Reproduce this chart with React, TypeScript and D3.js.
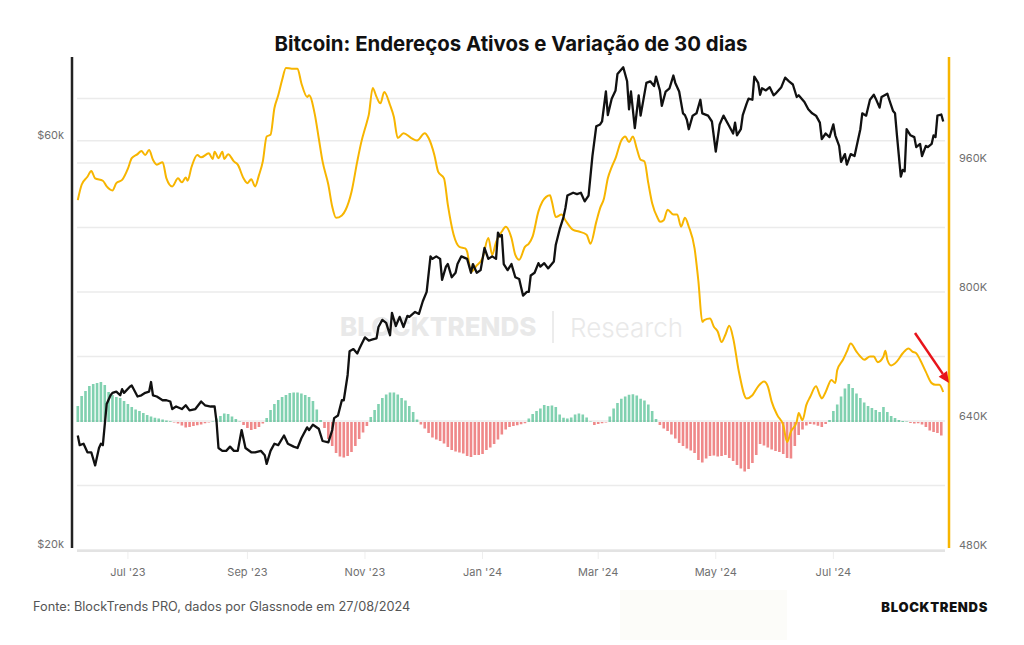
import * as d3 from "d3";

const W = 1024;
const H = 645;

// Active addresses (thousands), read at irregular dates
const activeAddresses: [string, number][] = [
  ["2023-06-05", 914], ["2023-06-07", 933], ["2023-06-10", 943], ["2023-06-12", 950], ["2023-06-14", 941],
  ["2023-06-18", 938], ["2023-06-20", 931], ["2023-06-23", 926], ["2023-06-25", 935], ["2023-06-28", 939],
  ["2023-07-01", 953], ["2023-07-03", 966], ["2023-07-06", 971], ["2023-07-08", 975], ["2023-07-10", 970],
  ["2023-07-12", 976], ["2023-07-14", 964], ["2023-07-16", 958], ["2023-07-19", 961], ["2023-07-21", 941],
  ["2023-07-24", 931], ["2023-07-27", 941], ["2023-07-29", 936], ["2023-07-31", 942], ["2023-08-01", 938],
  ["2023-08-03", 955], ["2023-08-06", 970], ["2023-08-08", 967], ["2023-08-12", 972], ["2023-08-14", 965],
  ["2023-08-15", 974], ["2023-08-17", 966], ["2023-08-19", 974], ["2023-08-20", 965], ["2023-08-22", 971],
  ["2023-08-25", 962], ["2023-08-27", 958], ["2023-08-30", 941], ["2023-09-01", 935], ["2023-09-03", 940],
  ["2023-09-05", 931], ["2023-09-07", 945], ["2023-09-09", 962], ["2023-09-11", 993], ["2023-09-13", 995],
  ["2023-09-15", 1028], ["2023-09-17", 1044], ["2023-09-19", 1063], ["2023-09-21", 1078], ["2023-09-24", 1077],
  ["2023-09-27", 1077], ["2023-09-29", 1059], ["2023-10-02", 1042], ["2023-10-03", 1044], ["2023-10-06", 1020],
  ["2023-10-08", 991], ["2023-10-10", 962], ["2023-10-13", 933], ["2023-10-15", 906], ["2023-10-17", 892],
  ["2023-10-20", 895], ["2023-10-22", 902], ["2023-10-25", 924], ["2023-10-28", 962], ["2023-10-30", 985],
  ["2023-11-02", 1011], ["2023-11-03", 1020], ["2023-11-05", 1053], ["2023-11-07", 1042], ["2023-11-09", 1034],
  ["2023-11-11", 1048], ["2023-11-14", 1032], ["2023-11-16", 1017], ["2023-11-18", 991], ["2023-11-21", 997],
  ["2023-11-25", 991], ["2023-11-28", 988], ["2023-12-02", 997], ["2023-12-04", 991], ["2023-12-07", 970],
  ["2023-12-09", 949], ["2023-12-12", 941], ["2023-12-14", 908], ["2023-12-17", 871], ["2023-12-20", 856],
  ["2023-12-23", 854], ["2023-12-24", 850], ["2023-12-26", 825], ["2023-12-29", 833], ["2024-01-01", 842],
  ["2024-01-04", 867], ["2024-01-06", 846], ["2024-01-08", 862], ["2024-01-11", 875], ["2024-01-13", 881],
  ["2024-01-16", 867], ["2024-01-18", 846], ["2024-01-20", 840], ["2024-01-23", 856], ["2024-01-25", 860],
  ["2024-01-27", 869], ["2024-01-30", 900], ["2024-02-01", 912], ["2024-02-03", 918], ["2024-02-05", 920],
  ["2024-02-06", 912], ["2024-02-08", 893], ["2024-02-11", 896], ["2024-02-13", 889], ["2024-02-17", 877],
  ["2024-02-20", 875], ["2024-02-24", 871], ["2024-02-26", 860], ["2024-02-29", 887], ["2024-03-02", 904],
  ["2024-03-04", 916], ["2024-03-06", 941], ["2024-03-08", 955], ["2024-03-10", 966], ["2024-03-13", 988],
  ["2024-03-15", 993], ["2024-03-17", 986], ["2024-03-19", 993], ["2024-03-21", 978], ["2024-03-23", 964],
  ["2024-03-25", 962], ["2024-03-27", 935], ["2024-03-29", 910], ["2024-04-01", 891], ["2024-04-02", 887],
  ["2024-04-04", 889], ["2024-04-06", 902], ["2024-04-09", 896], ["2024-04-11", 896], ["2024-04-13", 881],
  ["2024-04-15", 892], ["2024-04-17", 881], ["2024-04-20", 854], ["2024-04-22", 813], ["2024-04-24", 763],
  ["2024-04-25", 765], ["2024-04-28", 767], ["2024-04-30", 757], ["2024-05-02", 751], ["2024-05-04", 738],
  ["2024-05-06", 747], ["2024-05-08", 758], ["2024-05-10", 743], ["2024-05-13", 701], ["2024-05-17", 668],
  ["2024-05-20", 672], ["2024-05-23", 683], ["2024-05-26", 689], ["2024-05-28", 683], ["2024-05-30", 664],
  ["2024-06-02", 647], ["2024-06-05", 635], ["2024-06-07", 614], ["2024-06-09", 627], ["2024-06-12", 639],
  ["2024-06-13", 650], ["2024-06-15", 641], ["2024-06-17", 660], ["2024-06-19", 670], ["2024-06-22", 683],
  ["2024-06-24", 672], ["2024-06-25", 668], ["2024-06-27", 676], ["2024-06-30", 691], ["2024-07-02", 687],
  ["2024-07-03", 703], ["2024-07-06", 716], ["2024-07-08", 726], ["2024-07-10", 736], ["2024-07-13", 726],
  ["2024-07-15", 720], ["2024-07-17", 716], ["2024-07-20", 720], ["2024-07-22", 720], ["2024-07-24", 713],
  ["2024-07-27", 720], ["2024-07-28", 727], ["2024-07-29", 716], ["2024-07-31", 709], ["2024-08-03", 714],
  ["2024-08-06", 724], ["2024-08-09", 730], ["2024-08-11", 726], ["2024-08-13", 724], ["2024-08-15", 716],
  ["2024-08-18", 701], ["2024-08-21", 687], ["2024-08-23", 685], ["2024-08-25", 685], ["2024-08-27", 676],
];

// BTC price in USD
const btcPrice: [string, number][] = [
  ["2023-06-05", 27200], ["2023-06-06", 26500], ["2023-06-08", 26600], ["2023-06-10", 26000], ["2023-06-12", 26000],
  ["2023-06-14", 25100], ["2023-06-16", 26300], ["2023-06-17", 26600], ["2023-06-18", 26500], ["2023-06-20", 29600],
  ["2023-06-22", 30300], ["2023-06-23", 30500], ["2023-06-25", 30600], ["2023-06-27", 30300], ["2023-06-28", 30800],
  ["2023-06-29", 30500], ["2023-07-02", 31000], ["2023-07-03", 31100], ["2023-07-06", 30200], ["2023-07-08", 30300],
  ["2023-07-10", 30500], ["2023-07-12", 30600], ["2023-07-13", 31400], ["2023-07-14", 30300], ["2023-07-16", 30200],
  ["2023-07-19", 29900], ["2023-07-21", 29900], ["2023-07-23", 29800], ["2023-07-24", 29200], ["2023-07-26", 29400],
  ["2023-07-29", 29200], ["2023-07-31", 29500], ["2023-08-02", 29100], ["2023-08-05", 29200], ["2023-08-08", 29800],
  ["2023-08-10", 29500], ["2023-08-13", 29400], ["2023-08-15", 29400], ["2023-08-16", 28200], ["2023-08-17", 26300],
  ["2023-08-19", 26100], ["2023-08-21", 26100], ["2023-08-23", 26400], ["2023-08-25", 26100], ["2023-08-27", 26100],
  ["2023-08-29", 27600], ["2023-08-31", 26300], ["2023-09-03", 26000], ["2023-09-05", 26000], ["2023-09-08", 26100],
  ["2023-09-10", 25800], ["2023-09-11", 25200], ["2023-09-13", 26100], ["2023-09-15", 26600], ["2023-09-17", 26500],
  ["2023-09-20", 27200], ["2023-09-22", 26600], ["2023-09-25", 26400], ["2023-09-27", 26300], ["2023-09-29", 27000],
  ["2023-10-02", 27800], ["2023-10-03", 27600], ["2023-10-05", 28000], ["2023-10-08", 27700], ["2023-10-10", 26800],
  ["2023-10-13", 26700], ["2023-10-15", 27600], ["2023-10-16", 28500], ["2023-10-18", 28700], ["2023-10-20", 29900],
  ["2023-10-21", 29900], ["2023-10-23", 32000], ["2023-10-24", 34100], ["2023-10-26", 34300], ["2023-10-28", 33900],
  ["2023-10-29", 34300], ["2023-11-01", 35400], ["2023-11-03", 35100], ["2023-11-05", 35200], ["2023-11-07", 35300],
  ["2023-11-08", 36400], ["2023-11-10", 37100], ["2023-11-12", 36800], ["2023-11-14", 35600], ["2023-11-15", 37800],
  ["2023-11-17", 36500], ["2023-11-19", 37400], ["2023-11-21", 36400], ["2023-11-23", 37500], ["2023-11-24", 37400],
  ["2023-11-27", 37900], ["2023-11-29", 37700], ["2023-12-01", 39000], ["2023-12-03", 40000], ["2023-12-05", 44000],
  ["2023-12-06", 43700], ["2023-12-08", 44000], ["2023-12-10", 43700], ["2023-12-11", 41300], ["2023-12-13", 42800],
  ["2023-12-14", 43100], ["2023-12-16", 41600], ["2023-12-18", 42100], ["2023-12-19", 43100], ["2023-12-21", 44000],
  ["2023-12-24", 43700], ["2023-12-26", 42100], ["2023-12-27", 43100], ["2023-12-29", 42100], ["2023-12-31", 42400],
  ["2024-01-02", 45000], ["2024-01-04", 43700], ["2024-01-06", 44000], ["2024-01-08", 43700], ["2024-01-09", 46900],
  ["2024-01-10", 46400], ["2024-01-11", 46600], ["2024-01-12", 43100], ["2024-01-14", 42400], ["2024-01-16", 43100],
  ["2024-01-18", 41600], ["2024-01-20", 41400], ["2024-01-22", 39600], ["2024-01-24", 40000], ["2024-01-25", 40000],
  ["2024-01-26", 41800], ["2024-01-28", 42100], ["2024-01-30", 43200], ["2024-01-31", 42800], ["2024-02-02", 43200],
  ["2024-02-04", 42600], ["2024-02-07", 43400], ["2024-02-08", 45400], ["2024-02-10", 47300], ["2024-02-12", 48900],
  ["2024-02-13", 50100], ["2024-02-14", 51800], ["2024-02-17", 52200], ["2024-02-19", 52000], ["2024-02-21", 52200],
  ["2024-02-23", 51000], ["2024-02-25", 51800], ["2024-02-27", 57600], ["2024-02-29", 62400], ["2024-03-02", 62700],
  ["2024-03-03", 63200], ["2024-03-05", 68500], ["2024-03-06", 64300], ["2024-03-08", 67200], ["2024-03-10", 68700],
  ["2024-03-11", 71800], ["2024-03-14", 73100], ["2024-03-16", 70400], ["2024-03-17", 65300], ["2024-03-18", 68500],
  ["2024-03-20", 62100], ["2024-03-22", 67800], ["2024-03-23", 64200], ["2024-03-26", 70100], ["2024-03-28", 70400],
  ["2024-03-30", 69500], ["2024-03-31", 71300], ["2024-04-02", 68700], ["2024-04-03", 65900], ["2024-04-05", 68500],
  ["2024-04-07", 69100], ["2024-04-09", 71500], ["2024-04-10", 70100], ["2024-04-12", 68500], ["2024-04-14", 64600],
  ["2024-04-15", 64300], ["2024-04-16", 63500], ["2024-04-17", 61900], ["2024-04-19", 64200], ["2024-04-21", 64600],
  ["2024-04-23", 67000], ["2024-04-24", 64600], ["2024-04-27", 64200], ["2024-04-29", 63200], ["2024-05-01", 58300],
  ["2024-05-03", 62700], ["2024-05-05", 64200], ["2024-05-08", 62400], ["2024-05-10", 61200], ["2024-05-11", 63000],
  ["2024-05-12", 60900], ["2024-05-14", 61900], ["2024-05-15", 64300], ["2024-05-17", 66300], ["2024-05-18", 67200],
  ["2024-05-20", 67000], ["2024-05-21", 71300], ["2024-05-23", 70100], ["2024-05-24", 67900], ["2024-05-25", 69100],
  ["2024-05-27", 68700], ["2024-05-29", 69300], ["2024-05-31", 67800], ["2024-06-01", 68100], ["2024-06-04", 69300],
  ["2024-06-06", 71100], ["2024-06-08", 70400], ["2024-06-10", 69800], ["2024-06-12", 67500], ["2024-06-13", 67800],
  ["2024-06-16", 66600], ["2024-06-18", 65300], ["2024-06-20", 64600], ["2024-06-22", 64200], ["2024-06-24", 63000],
  ["2024-06-25", 60300], ["2024-06-27", 61200], ["2024-06-29", 60600], ["2024-07-01", 62700], ["2024-07-02", 60900],
  ["2024-07-04", 59200], ["2024-07-05", 56700], ["2024-07-07", 57900], ["2024-07-08", 56300], ["2024-07-10", 57900],
  ["2024-07-12", 57600], ["2024-07-13", 59000], ["2024-07-15", 61900], ["2024-07-16", 64600], ["2024-07-18", 64200],
  ["2024-07-20", 67000], ["2024-07-22", 67900], ["2024-07-23", 67200], ["2024-07-25", 65600], ["2024-07-26", 67500],
  ["2024-07-29", 68100], ["2024-07-30", 67000], ["2024-08-01", 65000], ["2024-08-02", 64600], ["2024-08-03", 60900],
  ["2024-08-04", 57600], ["2024-08-05", 54500], ["2024-08-06", 55500], ["2024-08-07", 55300], ["2024-08-08", 61900],
  ["2024-08-10", 60900], ["2024-08-12", 60600], ["2024-08-13", 59000], ["2024-08-15", 59500], ["2024-08-16", 57600],
  ["2024-08-18", 59200], ["2024-08-19", 59000], ["2024-08-21", 59500], ["2024-08-22", 60900], ["2024-08-23", 60600],
  ["2024-08-24", 64200], ["2024-08-26", 64400], ["2024-08-27", 63200],
];

// 30-day change of active addresses (thousands), one value every 2 days
const changeStart = "2023-06-05";
const changeStepDays = 2;
const change30d: number[] = [
  64, 104, 124, 144, 152, 156, 160, 148, 120, 108, 100, 96, 84, 72, 60, 50, 44, 36, 28, 22,
  17, 14, 10, 6, 3, -2, -6, -14, -22, -20, -16, -13, -10, -5, -2, 2, 14, 24, 34, 32,
  22, 12, 2, -12, -24, -32, -28, -20, -6, 16, 48, 72, 88, 100, 108, 116, 118, 118, 114, 108,
  100, 84, 50, 8, -24, -68, -96, -124, -138, -142, -136, -120, -96, -68, -42, -16, 20, 48, 72, 96,
  110, 118, 118, 110, 96, 86, 64, 40, 10, -10, -26, -44, -62, -70, -76, -86, -100, -112, -118, -122,
  -126, -136, -140, -132, -132, -128, -112, -102, -88, -70, -50, -30, -20, -16, -13, -9, -5, 14, 32, 44,
  54, 68, 64, 66, 60, 30, 17, 14, 18, 30, 34, 30, 18, 2, -12, -8, -5, -2, 22, 54,
  76, 93, 102, 109, 111, 106, 93, 86, 70, 44, 12, -12, -26, -36, -50, -66, -84, -96, -106, -114,
  -124, -152, -162, -146, -136, -134, -138, -136, -132, -144, -156, -172, -186, -198, -188, -164, -132, -88, -94, -102,
  -110, -116, -120, -128, -144, -146, -96, -52, -30, -14, -8, -10, -15, -20, -8, 8, 44, 70, 102, 134,
  152, 136, 114, 96, 78, 64, 56, 48, 40, 60, 40, 24, 16, 8, 4, 2, -4, -6, -5, -10,
  -20, -34, -40, -44, -54,
];

const monthTicks = ["2023-07-01", "2023-09-01", "2023-11-01", "2024-01-01", "2024-03-01", "2024-05-01", "2024-07-01"];
const priceTicks = [20000, 60000];
const addrGrid = [480, 560, 640, 720, 800, 880, 960, 1040];
const addrLabels = [480, 640, 800, 960];

const FONT = "Inter, 'Noto Sans', sans-serif";
const ORANGE = "#f7b500";

export default function App() {
  const parse = d3.timeParse("%Y-%m-%d");

  const left = 72;
  const right = 949;
  const top = 57;
  const bottom = 550;

  const x = d3
    .scaleTime()
    .domain([parse("2023-06-02")!, parse("2024-08-30")!])
    .range([left, right]);
  const yAddr = d3.scaleLinear().domain([480, 1091.5]).range([bottom, top]);
  const yPrice = d3.scaleLog().domain([20000, 75150]).range([bottom, top]);
  const yChange = d3.scaleLinear().domain([-200, 200]).range([472, 372]);

  const addrLine = d3
    .line<[string, number]>()
    .x((d) => x(parse(d[0])!))
    .y((d) => yAddr(d[1]))
    .curve(d3.curveMonotoneX);
  const priceLine = d3
    .line<[string, number]>()
    .x((d) => x(parse(d[0])!))
    .y((d) => yPrice(d[1]));

  const start = parse(changeStart)!;
  const bars = change30d.map((v, i) => ({ date: d3.timeDay.offset(start, i * changeStepDays), v }));
  const barW = 2.6;

  const fmtMonth = d3.timeFormat("%b '%y");
  const fmtPrice = (v: number) => `$${v / 1000}k`;

  // red annotation arrow near the latest reading
  const a0: [number, number] = [915, 333];
  const a1: [number, number] = [949, 383];
  const len = Math.hypot(a1[0] - a0[0], a1[1] - a0[1]);
  const ux = (a1[0] - a0[0]) / len;
  const uy = (a1[1] - a0[1]) / len;
  const bx = a1[0] - ux * 11;
  const by = a1[1] - uy * 11;

  return (
    <svg
      width={W}
      height={H}
      style={{ position: "absolute", left: 0, top: 0, background: "#fff" }}
      fontFamily={FONT}
    >
      <rect width={W} height={H} fill="#fff" />

      <text x={511} y={51} textAnchor="middle" fontSize={20.4} fontWeight={700} fill="#111">
        Bitcoin: Endereços Ativos e Variação de 30 dias
      </text>

      {/* grid */}
      {addrGrid.map((v) => (
        <line key={"g" + v} x1={77} x2={945} y1={yAddr(v)} y2={yAddr(v)} stroke="#ebebeb" strokeWidth={1.5} />
      ))}
      {priceTicks.map((v) => (
        <line key={"p" + v} x1={77} x2={945} y1={yPrice(v)} y2={yPrice(v)} stroke="#ebebeb" strokeWidth={1.5} />
      ))}

      {/* watermark */}
      <g fill="#e9e9e9">
        <text x={340} y={336} fontSize={26} fontWeight={800}>BLOCKTRENDS</text>
        <line x1={553} x2={553} y1={311} y2={343} stroke="#e6e6e6" strokeWidth={1.5} />
        <text x={570} y={337} fontSize={26} fontWeight={300}>Research</text>
      </g>

      {/* 30 day change bars */}
      {bars.map((b, i) => (
        <rect
          key={i}
          x={x(b.date) - barW / 2}
          width={barW}
          y={b.v >= 0 ? yChange(b.v) : yChange(0)}
          height={Math.abs(yChange(b.v) - yChange(0))}
          fill={b.v >= 0 ? "#2db37c" : "#e5383b"}
          fillOpacity={0.6}
        />
      ))}

      <path d={addrLine(activeAddresses) ?? ""} fill="none" stroke={ORANGE} strokeWidth={2} strokeLinejoin="round" />
      <path d={priceLine(btcPrice) ?? ""} fill="none" stroke="#111" strokeWidth={2.3} strokeLinejoin="round" />

      {/* axes */}
      <line x1={77} x2={945} y1={bottom + 1} y2={bottom + 1} stroke="#e3e3e3" strokeWidth={2} />
      <line x1={left} x2={left} y1={top} y2={bottom - 2} stroke="#222" strokeWidth={2.5} />
      <line x1={right} x2={right} y1={top} y2={bottom - 2} stroke={ORANGE} strokeWidth={2.5} />

      {monthTicks.map((t) => {
        const xv = x(parse(t)!);
        return (
          <g key={t}>
            <line x1={xv} x2={xv} y1={bottom + 2} y2={bottom + 9} stroke="#eeeeee" strokeWidth={1} />
            <text x={xv} y={576} textAnchor="middle" fontSize={11} fill="#6f6f6f">
              {fmtMonth(parse(t)!)}
            </text>
          </g>
        );
      })}

      {priceTicks.map((v) => (
        <text key={"pl" + v} x={64} y={yPrice(v) - 2} textAnchor="end" fontSize={11} fill="#6f6f6f">
          {fmtPrice(v)}
        </text>
      ))}
      {addrLabels.map((v) => (
        <text key={"al" + v} x={959} y={yAddr(v) - 1.5} fontSize={11} fill="#6f6f6f">
          {v}K
        </text>
      ))}

      <line x1={a0[0]} y1={a0[1]} x2={bx} y2={by} stroke="#e8141b" strokeWidth={2.5} />
      <polygon
        points={`${a1[0]},${a1[1]} ${bx - uy * 5},${by + ux * 5} ${bx + uy * 5},${by - ux * 5}`}
        fill="#e8141b"
      />

      {/* footer */}
      <rect x={620} y={590} width={167} height={50} fill="#fcfcf9" />
      <text x={33} y={611} fontSize={12.75} fill="#555">
        Fonte: BlockTrends PRO, dados por Glassnode em 27/08/2024
      </text>
      <text x={988} y={612} textAnchor="end" fontSize={13} fontWeight={900} fill="#111" letterSpacing={0.7}>
        BLOCKTRENDS
      </text>
    </svg>
  );
}
